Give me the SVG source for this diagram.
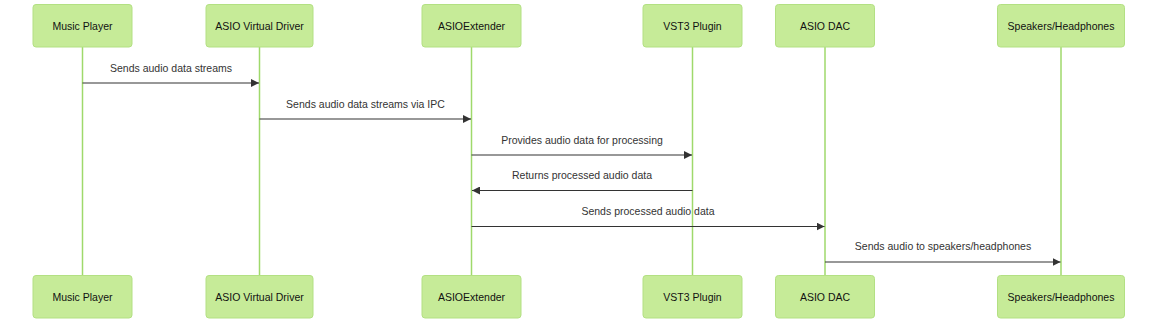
<svg xmlns="http://www.w3.org/2000/svg" width="1158" height="326" viewBox="0 0 1158 326">
<style>
.actor{fill:#c6eb98;stroke:#b3e083;stroke-width:1}
.life{stroke:#9fd96b;stroke-width:1.5}
.at{font-family:"Liberation Sans",Arial,sans-serif;font-size:10.5px;fill:#111;text-anchor:middle;dominant-baseline:central}
.msg{stroke:#333;stroke-width:1.2;fill:none}
.mt{font-family:"Liberation Sans",Arial,sans-serif;font-size:10.5px;fill:#333;text-anchor:middle}
</style>
<defs>
<marker id="ah" viewBox="0 0 10 10" refX="10" refY="5" markerWidth="8" markerHeight="8" markerUnits="userSpaceOnUse" orient="auto">
<path d="M0,0 L10,5 L0,10 z" fill="#333"/>
</marker>
</defs>
<g id="lifelines">
<line class="life" x1="82.5" y1="47" x2="82.5" y2="275"/>
<line class="life" x1="259.5" y1="47" x2="259.5" y2="275"/>
<line class="life" x1="471.5" y1="47" x2="471.5" y2="275"/>
<line class="life" x1="692.5" y1="47" x2="692.5" y2="275"/>
<line class="life" x1="825" y1="47" x2="825" y2="275"/>
<line class="life" x1="1061" y1="47" x2="1061" y2="275"/>
</g>
<g id="musicplayer">
<rect class="actor" x="33" y="4.5" width="99" height="42.5" rx="3"/>
<text class="at" x="82.5" y="26">Music Player</text>
<rect class="actor" x="33" y="275.5" width="99" height="42.5" rx="3"/>
<text class="at" x="82.5" y="297">Music Player</text>
</g>
<g id="asiovirtual">
<rect class="actor" x="206" y="4.5" width="107" height="42.5" rx="3"/>
<text class="at" x="259.5" y="26">ASIO Virtual Driver</text>
<rect class="actor" x="206" y="275.5" width="107" height="42.5" rx="3"/>
<text class="at" x="259.5" y="297">ASIO Virtual Driver</text>
</g>
<g id="asioextender">
<rect class="actor" x="422" y="4.5" width="99" height="42.5" rx="3"/>
<text class="at" x="471.5" y="26">ASIOExtender</text>
<rect class="actor" x="422" y="275.5" width="99" height="42.5" rx="3"/>
<text class="at" x="471.5" y="297">ASIOExtender</text>
</g>
<g id="vst3">
<rect class="actor" x="643" y="4.5" width="99" height="42.5" rx="3"/>
<text class="at" x="692.5" y="26">VST3 Plugin</text>
<rect class="actor" x="643" y="275.5" width="99" height="42.5" rx="3"/>
<text class="at" x="692.5" y="297">VST3 Plugin</text>
</g>
<g id="asiodac">
<rect class="actor" x="775.5" y="4.5" width="99" height="42.5" rx="3"/>
<text class="at" x="825" y="26">ASIO DAC</text>
<rect class="actor" x="775.5" y="275.5" width="99" height="42.5" rx="3"/>
<text class="at" x="825" y="297">ASIO DAC</text>
</g>
<g id="speakers">
<rect class="actor" x="997.5" y="4.5" width="127" height="42.5" rx="3"/>
<text class="at" x="1061" y="26">Speakers/Headphones</text>
<rect class="actor" x="997.5" y="275.5" width="127" height="42.5" rx="3"/>
<text class="at" x="1061" y="297">Speakers/Headphones</text>
</g>
<g id="connectors">
<line class="msg" x1="82.5" y1="83" x2="259" y2="83" marker-end="url(#ah)"/>
<text class="mt" x="171" y="72">Sends audio data streams</text>
<line class="msg" x1="259.5" y1="119" x2="471" y2="119" marker-end="url(#ah)"/>
<text class="mt" x="365.5" y="108">Sends audio data streams via IPC</text>
<line class="msg" x1="471.5" y1="155" x2="692" y2="155" marker-end="url(#ah)"/>
<text class="mt" x="582" y="144">Provides audio data for processing</text>
<line class="msg" x1="692.5" y1="190.5" x2="472" y2="190.5" marker-end="url(#ah)"/>
<text class="mt" x="582" y="179">Returns processed audio data</text>
<line class="msg" x1="471.5" y1="226.5" x2="824.5" y2="226.5" marker-end="url(#ah)"/>
<text class="mt" x="648" y="215">Sends processed audio data</text>
<line class="msg" x1="825" y1="262" x2="1060.5" y2="262" marker-end="url(#ah)"/>
<text class="mt" x="943" y="250">Sends audio to speakers/headphones</text>
</g>
</svg>
